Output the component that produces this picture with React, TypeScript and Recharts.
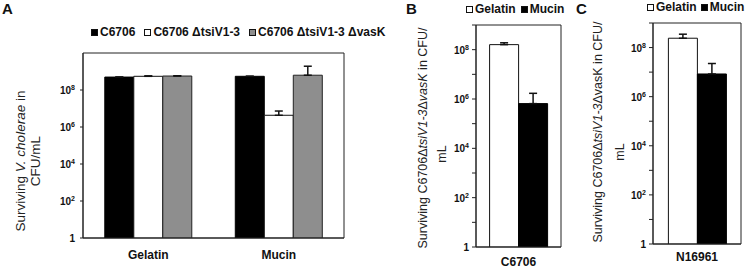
import React from 'react';
import { BarChart, Bar, XAxis, YAxis, ErrorBar, Legend, ReferenceArea } from 'recharts';

// ---------- Data ----------
const categoriesA = ['Gelatin', 'Mucin'];
const seriesNamesA = ['C6706', 'C6706 ΔtsiV1-3', 'C6706 ΔtsiV1-3 ΔvasK'];
const wildTypeA = [5.0e8, 5.5e8];
const wildTypeErrA = [0, 0];
const tsiA = [5.5e8, 4.3e6];
const tsiErrA = [0.3e8, 3.0e6];
const vasKA = [5.7e8, 6.3e8];
const vasKErrA = [0.2e8, 1.3e9];

const mediaNames = ['Gelatin', 'Mucin'];
const categoriesB = ['C6706'];
const gelatinB = [1.6e8];
const gelatinErrB = [0.3e8];
const mucinB = [6.5e5];
const mucinErrB = [1.05e6];

const categoriesC = ['N16961'];
const gelatinC = [2.4e8];
const gelatinErrC = [1.1e8];
const mucinC = [8.4e6];
const mucinErrC = [1.4e7];

const ticksA = [1, 1e2, 1e4, 1e6, 1e8];
const ticksBC = [1, 1e1, 1e2, 1e3, 1e4, 1e5, 1e6, 1e7, 1e8, 1e9];
const domainA: [number, number] = [1, 1e10];
const domainBC: [number, number] = [1, 1e9];

const dataA = categoriesA.map((c, i) => ({
  category: c,
  wt: wildTypeA[i],
  wtErr: [0, wildTypeErrA[i]],
  tsi: tsiA[i],
  tsiErr: [0, tsiErrA[i]],
  vask: vasKA[i],
  vaskErr: [0, vasKErrA[i]],
}));
const dataB = categoriesB.map((c, i) => ({
  category: c,
  gel: gelatinB[i],
  gelErr: [0, gelatinErrB[i]],
  muc: mucinB[i],
  mucErr: [0, mucinErrB[i]],
}));
const dataC = categoriesC.map((c, i) => ({
  category: c,
  gel: gelatinC[i],
  gelErr: [0, gelatinErrC[i]],
  muc: mucinC[i],
  mucErr: [0, mucinErrC[i]],
}));

// ---------- Styles ----------
const FONT = '"Liberation Sans", Arial, Helvetica, sans-serif';
const AXIS = '#222';
const GRAY = '#8e8e8e';

const YTick = (props: any) => {
  const { x, y, payload } = props;
  const exp = Math.round(Math.log10(payload.value));
  if (exp % 2 !== 0) return <g />;
  return (
    <text x={x} y={y} dy={4} textAnchor="end" fontSize={10} fontWeight="bold" fill="#111" fontFamily={FONT}>
      {exp === 0 ? (
        '1'
      ) : (
        <>
          <tspan>10</tspan>
          <tspan fontSize={7} dy={-4}>{exp}</tspan>
        </>
      )}
    </text>
  );
};

const makeXTick = (dy: number) => (props: any) => {
  const { x, y, payload } = props;
  return (
    <text x={x} y={y} dy={dy} textAnchor="middle" fontSize={12} fontWeight="bold" fill="#111" fontFamily={FONT}>
      {payload.value}
    </text>
  );
};

const swatch = (fill: string) => ({
  display: 'inline-block',
  width: 7,
  height: 7,
  background: fill,
  border: '1px solid #111',
  boxSizing: 'border-box' as const,
  marginRight: 2,
});

const LegendContent = (items: { name: string; fill: string }[], gap: number) => () => (
  <div
    style={{
      display: 'flex',
      alignItems: 'center',
      whiteSpace: 'nowrap',
      fontFamily: FONT,
      fontWeight: 'bold',
      fontSize: 12,
      color: '#111',
      gap,
    }}
  >
    {items.map((it) => (
      <span key={it.name} style={{ display: 'inline-flex', alignItems: 'center' }}>
        <span style={swatch(it.fill)} />
        {it.name}
      </span>
    ))}
  </div>
);

export default function App() {
  return (
    <div style={{ position: 'fixed', left: 0, top: 0, width: 745, height: 270, background: '#fff', overflow: 'hidden' }}>
      {/* Panel A */}
      <div style={{ position: 'absolute', left: 0, top: 0 }}>
        <BarChart width={380} height={270} data={dataA} margin={{ top: 53, right: 36, bottom: 0, left: 0 }} barCategoryGap="16.7%" barGap={0}>
          <XAxis dataKey="category" tickLine={false} axisLine={{ stroke: AXIS }} height={32} tick={makeXTick(13)} interval={0} />
          <YAxis
            scale="log"
            type="number"
            domain={domainA}
            allowDataOverflow
            ticks={ticksA}
            interval={0}
            width={83}
            tickSize={3}
            tickMargin={5}
            tick={<YTick />}
            axisLine={{ stroke: AXIS }}
            tickLine={{ stroke: AXIS }}
          />
          <Legend
            layout="horizontal"
            align="center"
            verticalAlign="middle"
            wrapperStyle={{ top: 25, left: 91, width: 300 }}
            content={LegendContent(
              [
                { name: seriesNamesA[0], fill: '#000' },
                { name: seriesNamesA[1], fill: '#fff' },
                { name: seriesNamesA[2], fill: GRAY },
              ],
              9
            )}
          />
          <Bar dataKey="wt" name={seriesNamesA[0]} fill="#000" stroke="#000" isAnimationActive={false}>
            <ErrorBar dataKey="wtErr" width={4} stroke="#111" direction="y" />
          </Bar>
          <Bar dataKey="tsi" name={seriesNamesA[1]} fill="#fff" stroke="#111" isAnimationActive={false}>
            <ErrorBar dataKey="tsiErr" width={4} stroke="#111" direction="y" />
          </Bar>
          <Bar dataKey="vask" name={seriesNamesA[2]} fill={GRAY} stroke="#222" isAnimationActive={false}>
            <ErrorBar dataKey="vaskErr" width={4} stroke="#111" direction="y" />
          </Bar>
          <ReferenceArea y1={domainA[0]} y2={domainA[1]} fill="none" stroke={AXIS} strokeWidth={1} ifOverflow="visible" />
        </BarChart>
      </div>

      {/* Panel B */}
      <div style={{ position: 'absolute', left: 390, top: 0 }}>
        <BarChart width={180} height={270} data={dataB} margin={{ top: 25, right: 9, bottom: 0, left: 0 }} barCategoryGap="16%" barGap={0}>
          <XAxis dataKey="category" tickLine={false} axisLine={{ stroke: AXIS }} height={23} tick={makeXTick(11)} interval={0} />
          <YAxis
            scale="log"
            type="number"
            domain={domainBC}
            allowDataOverflow
            ticks={ticksBC}
            interval={0}
            width={86}
            tickSize={4}
            tickMargin={3}
            tick={<YTick />}
            axisLine={{ stroke: AXIS }}
            tickLine={{ stroke: AXIS }}
          />
          <Legend
            layout="horizontal"
            align="center"
            verticalAlign="middle"
            wrapperStyle={{ top: 2, left: 76, width: 110 }}
            content={LegendContent(
              [
                { name: mediaNames[0], fill: '#fff' },
                { name: mediaNames[1], fill: '#000' },
              ],
              5
            )}
          />
          <Bar dataKey="gel" name={mediaNames[0]} fill="#fff" stroke="#111" isAnimationActive={false}>
            <ErrorBar dataKey="gelErr" width={4} stroke="#111" direction="y" />
          </Bar>
          <Bar dataKey="muc" name={mediaNames[1]} fill="#000" stroke="#000" isAnimationActive={false}>
            <ErrorBar dataKey="mucErr" width={4} stroke="#111" direction="y" />
          </Bar>
          <ReferenceArea y1={domainBC[0]} y2={domainBC[1]} fill="none" stroke={AXIS} strokeWidth={1} ifOverflow="visible" />
        </BarChart>
      </div>

      {/* Panel C */}
      <div style={{ position: 'absolute', left: 570, top: 0 }}>
        <BarChart width={175} height={270} data={dataC} margin={{ top: 23, right: 4, bottom: 0, left: 0 }} barCategoryGap="17.5%" barGap={0}>
          <XAxis dataKey="category" tickLine={false} axisLine={{ stroke: AXIS }} height={26} tick={makeXTick(9)} interval={0} />
          <YAxis
            scale="log"
            type="number"
            domain={domainBC}
            allowDataOverflow
            ticks={ticksBC}
            interval={0}
            width={83}
            tickSize={4}
            tickMargin={3}
            tick={<YTick />}
            axisLine={{ stroke: AXIS }}
            tickLine={{ stroke: AXIS }}
          />
          <Legend
            layout="horizontal"
            align="center"
            verticalAlign="middle"
            wrapperStyle={{ top: 0, left: 77, width: 100 }}
            content={LegendContent(
              [
                { name: mediaNames[0], fill: '#fff' },
                { name: mediaNames[1], fill: '#000' },
              ],
              4
            )}
          />
          <Bar dataKey="gel" name={mediaNames[0]} fill="#fff" stroke="#111" isAnimationActive={false}>
            <ErrorBar dataKey="gelErr" width={4} stroke="#111" direction="y" />
          </Bar>
          <Bar dataKey="muc" name={mediaNames[1]} fill="#000" stroke="#000" isAnimationActive={false}>
            <ErrorBar dataKey="mucErr" width={4} stroke="#111" direction="y" />
          </Bar>
          <ReferenceArea y1={domainBC[0]} y2={domainBC[1]} fill="none" stroke={AXIS} strokeWidth={1} ifOverflow="visible" />
        </BarChart>
      </div>

      {/* Panel letters and axis titles */}
      <svg width={745} height={270} style={{ position: 'absolute', left: 0, top: 0, pointerEvents: 'none' }} fontFamily={FONT}>
        <text x={2} y={14} fontSize={15} fontWeight="bold" fill="#111">A</text>
        <text x={406} y={14} fontSize={15} fontWeight="bold" fill="#111">B</text>
        <text x={576} y={14} fontSize={15} fontWeight="bold" fill="#111">C</text>

        <g transform="translate(25,161) rotate(-90)">
          <text textAnchor="middle" fontSize={13.5} fill="#222">
            Surviving <tspan fontStyle="italic">V. cholerae</tspan> in
          </text>
          <text y={15} textAnchor="middle" fontSize={13.5} fill="#222">CFU/mL</text>
        </g>

        <g transform="translate(427,138) rotate(-90)">
          <text textAnchor="middle" fontSize={12.5} fill="#222">
            Surviving C6706Δ<tspan fontStyle="italic">tsiV1-3</tspan>Δ<tspan fontStyle="italic">vasK</tspan> in CFU/
          </text>
        </g>
        <g transform="translate(446,154) rotate(-90)">
          <text textAnchor="middle" fontSize={12.5} fill="#222">mL</text>
        </g>

        <g transform="translate(602,132) rotate(-90)">
          <text textAnchor="middle" fontSize={12.5} fill="#222">
            Surviving C6706Δ<tspan fontStyle="italic">tsiV1-3</tspan>Δ<tspan>vasK</tspan> in CFU/
          </text>
        </g>
        <g transform="translate(624,152) rotate(-90)">
          <text textAnchor="middle" fontSize={12.5} fill="#222">mL</text>
        </g>
      </svg>
    </div>
  );
}
